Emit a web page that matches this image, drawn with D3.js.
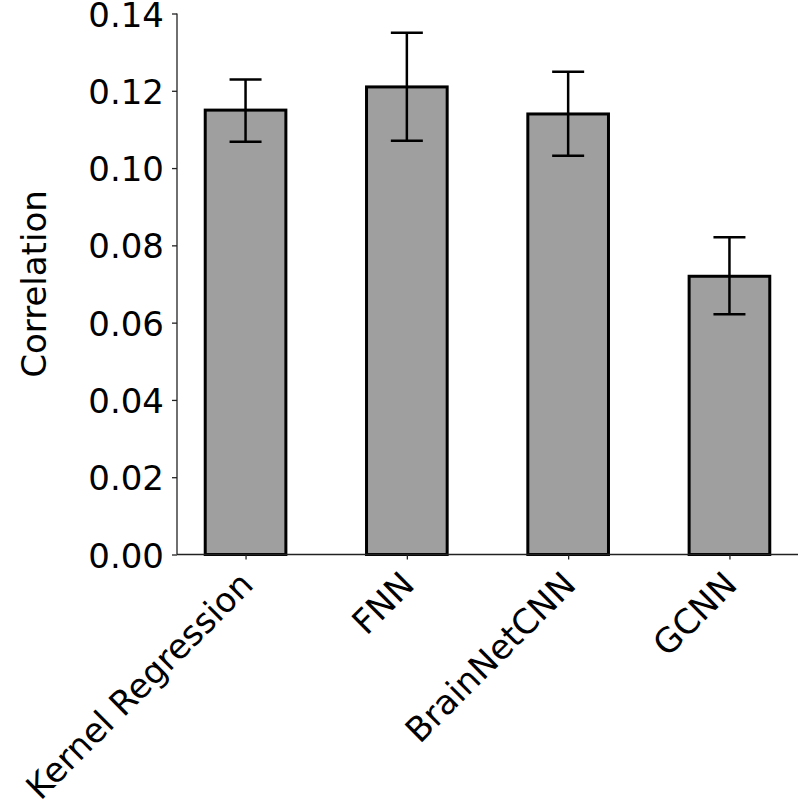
<!DOCTYPE html>
<html>
<head>
<meta charset="utf-8">
<script src="https://cdn.jsdelivr.net/npm/d3@7"></script>
<style>
  body { margin: 0; background: #fff; }
  text { font-family: "DejaVu Sans", sans-serif; fill: #000; }
</style>
</head>
<body>
<div id="chart"></div>
<script>
// data
const models = ["Kernel Regression", "FNN", "BrainNetCNN", "GCNN"];
const corr   = [0.115, 0.121, 0.114, 0.072];
const errLow = [0.1068, 0.1071, 0.1032, 0.0622];
const errHigh = [0.1229, 0.135, 0.1249, 0.0821];
const yTicks = [0, 0.02, 0.04, 0.06, 0.08, 0.10, 0.12, 0.14];

const W = 800, H = 807;
const margin = { left: 177, right: 2, top: 13.5, bottom: 252.5 };
const innerW = W - margin.left - margin.right;
const innerH = H - margin.top - margin.bottom;

const svg = d3.select("#chart").append("svg")
  .attr("width", W).attr("height", H);

const g = svg.append("g")
  .attr("transform", `translate(${margin.left},${margin.top})`);

// linear x like matplotlib bar(width=0.5) with 5% margins
const x = d3.scaleLinear().domain([-0.425, 3.425]).range([0, innerW]);
const barW = x(0.5) - x(0);
const y = d3.scaleLinear().domain([0, 0.14]).range([innerH, 0]);

// bars
g.selectAll("rect.bar")
  .data(corr)
  .join("rect")
    .attr("class", "bar")
    .attr("x", (d, i) => x(i) - barW / 2)
    .attr("y", d => y(d))
    .attr("width", barW)
    .attr("height", d => y(0) - y(d))
    .attr("fill", "#9f9f9f")
    .attr("stroke", "#000")
    .attr("stroke-width", 3);

// error bars
const cap = 16;
const eb = g.selectAll("g.err")
  .data(models.map((m, i) => ({ i, lo: errLow[i], hi: errHigh[i] })))
  .join("g").attr("class", "err")
  .attr("stroke", "#000").attr("stroke-width", 2.5);
eb.append("line")
  .attr("x1", d => x(d.i)).attr("x2", d => x(d.i))
  .attr("y1", d => y(d.lo)).attr("y2", d => y(d.hi));
eb.append("line")
  .attr("x1", d => x(d.i) - cap).attr("x2", d => x(d.i) + cap)
  .attr("y1", d => y(d.hi)).attr("y2", d => y(d.hi));
eb.append("line")
  .attr("x1", d => x(d.i) - cap).attr("x2", d => x(d.i) + cap)
  .attr("y1", d => y(d.lo)).attr("y2", d => y(d.lo));

// y axis
const yAxis = g.append("g")
  .call(d3.axisLeft(y).tickValues(yTicks).tickFormat(d3.format(".2f"))
    .tickSize(5).tickPadding(8));
yAxis.select(".domain").attr("d", `M0,${innerH}V0`).attr("stroke", "#222").attr("stroke-width", 1.3);
yAxis.selectAll(".tick line").attr("stroke", "#222").attr("stroke-width", 1.3);
yAxis.selectAll("text").style("font-size", "34px")
  .style("font-family", "DejaVu Sans")
  .attr("dy", "0.37em");

// x axis
const xAxis = g.append("g")
  .attr("transform", `translate(0,${innerH})`)
  .call(d3.axisBottom(x).tickValues(d3.range(models.length))
    .tickFormat(i => models[i]).tickSize(5));
xAxis.select(".domain").attr("d", `M0,0H${innerW}`).attr("stroke", "#222").attr("stroke-width", 1.3);
xAxis.selectAll(".tick line").attr("stroke", "#222").attr("stroke-width", 1.3);
xAxis.selectAll("text")
  .style("font-size", "34px")
  .style("font-family", "DejaVu Sans")
  .attr("text-anchor", "end")
  .attr("dy", 0)
  .attr("y", 0)
  .attr("transform", "translate(9,32) rotate(-45)");

// y label
svg.append("text")
  .attr("transform", `translate(46,${margin.top + innerH / 2}) rotate(-90)`)
  .attr("text-anchor", "middle")
  .style("font-size", "34px")
  .text("Correlation");
</script>
</body>
</html>
